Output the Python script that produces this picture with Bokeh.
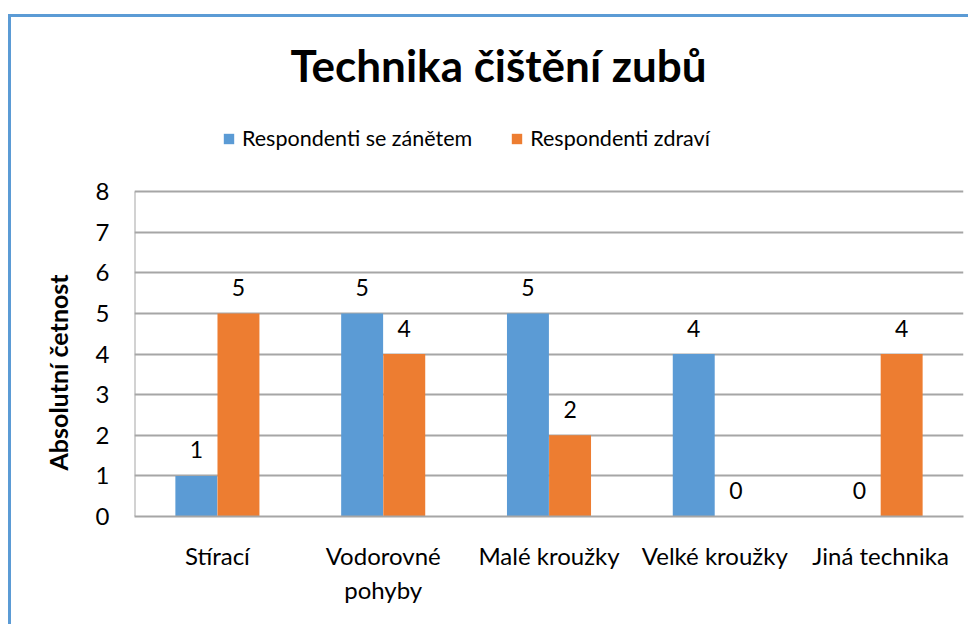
from bokeh.plotting import figure
from bokeh.models import (Range1d, FixedTicker, ColumnDataSource, LabelSet, Title,
                          Legend, LegendItem)
from bokeh.core.properties import value
from bokeh.embed import file_html
from bokeh.resources import INLINE

categories = ["Stírací", "Vodorovné pohyby", "Malé kroužky", "Velké kroužky", "Jiná technika"]
tick_labels = ["Stírací", "Vodorovné\npohyby", "Malé kroužky", "Velké kroužky", "Jiná technika"]
zanet = [1, 5, 5, 4, 0]
zdravi = [5, 4, 2, 0, 4]
series_names = ["Respondenti se zánětem", "Respondenti zdraví"]
y_ticks = [0, 1, 2, 3, 4, 5, 6, 7, 8]
y_title = "Absolutní  četnost"
chart_title = "Technika čištění zubů"

BLUE = "#5B9BD5"
ORANGE = "#ED7D31"
GRID = "#A6A6A6"
FONT = "Lato"

# frame spans from y=0 up through the legend area; gridlines stop at the top tick
Y_TOP = y_ticks[-1] + 2.24

idx = list(range(len(categories)))
src = ColumnDataSource(dict(
    xb=[i + 0.5 - 0.127 for i in idx],
    xo=[i + 0.5 + 0.127 for i in idx],
    zanet=zanet, zdravi=zdravi,
    lz=[str(v) for v in zanet], lo=[str(v) for v in zdravi],
))

p = figure(width=960, height=610, output_backend="svg", toolbar_location=None,
           x_range=Range1d(0, 5), y_range=Range1d(0, Y_TOP),
           min_border_left=123, min_border_right=8, min_border_top=83, min_border_bottom=111)
p.styles = {"border-left": "3px solid " + BLUE, "border-top": "3px solid " + BLUE,
            "margin-top": "14px", "margin-left": "8px"}
p.outline_line_color = None
p.background_fill_color = "white"
p.border_fill_color = "white"

rb = p.vbar(x="xb", top="zanet", width=0.253, source=src, color=BLUE, line_color=None)
ro = p.vbar(x="xo", top="zdravi", width=0.253, source=src, color=ORANGE, line_color=None)

# value axis line (only up to the top tick)
p.segment(x0=[0], y0=[y_ticks[0]], x1=[0], y1=[y_ticks[-1]], line_color=GRID, line_width=2)

for col, top, lab in (("xb", "zanet", "lz"), ("xo", "zdravi", "lo")):
    p.add_layout(LabelSet(x=col, y=top, text=lab, source=src, y_offset=26,
                          text_align="center", text_baseline="middle",
                          text_font=value(FONT), text_font_size="23px", text_color="black"))

# axes
p.xaxis.ticker = FixedTicker(ticks=[i + 0.5 for i in idx])
p.xaxis.major_label_overrides = {i + 0.5: t for i, t in enumerate(tick_labels)}
p.xaxis.major_tick_line_color = None
p.xaxis.minor_tick_line_color = None
p.xaxis.axis_line_color = GRID
p.xaxis.axis_line_width = 2
p.xaxis.major_label_text_font = FONT
p.xaxis.major_label_text_font_size = "24px"
p.xaxis.major_label_text_color = "black"
p.xaxis.major_label_standoff = 18

p.yaxis.ticker = FixedTicker(ticks=y_ticks)
p.yaxis.major_tick_line_color = None
p.yaxis.minor_tick_line_color = None
p.yaxis.axis_line_color = None
p.yaxis.major_label_text_font = FONT
p.yaxis.major_label_text_font_size = "24px"
p.yaxis.major_label_text_color = "black"
p.yaxis.major_label_standoff = 19

p.xgrid.grid_line_color = None
p.ygrid.grid_line_color = GRID
p.ygrid.grid_line_width = 2

# value-axis title, aligned with the gridded part of the frame
p.add_layout(Title(text=y_title, align="left", offset=46,
                   text_font=FONT, text_font_style="bold", text_font_size="25px",
                   text_color="black", standoff=40), "left")

legend = Legend(items=[LegendItem(label=series_names[0], renderers=[rb]),
                       LegendItem(label=series_names[1], renderers=[ro])],
                orientation="horizontal", location=(88, 365),
                label_text_font=FONT, label_text_font_size="21.5px", label_text_color="black",
                glyph_width=13, glyph_height=13, spacing=38, label_standoff=7,
                border_line_color=None, background_fill_alpha=0, padding=0, margin=0)
p.add_layout(legend, "center")

p.add_layout(Title(text=chart_title, align="left", offset=156,
                   text_font=FONT, text_font_style="bold", text_font_size="44px",
                   text_color="black", standoff=20), "above")

open("out.html", "w").write(file_html(p, INLINE))
